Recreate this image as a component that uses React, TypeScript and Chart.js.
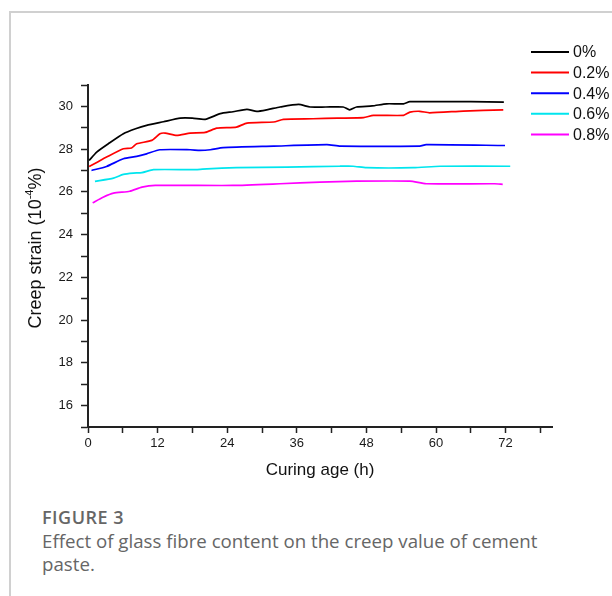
import React, { useEffect, useRef } from "react";
import { Chart, registerables } from "chart.js";

Chart.register(...registerables);

const seriesLabels = ["0%", "0.2%", "0.4%", "0.6%", "0.8%"];
const seriesColors = ["#000000", "#ff0000", "#0000ff", "#00e5ee", "#ff00ff"];

const hours0 = [0.2, 1.5, 3.5, 6.1, 8.2, 10.1, 13, 15.9, 18, 20.2, 22.8, 25, 27.4, 29.1, 31, 33.1, 36.3, 38.3, 41, 44, 45.1, 46.3, 49, 51.5, 54.4, 55.5, 60, 66, 71.7];
const strain0 = [27.47, 27.86, 28.25, 28.72, 28.95, 29.11, 29.28, 29.45, 29.45, 29.39, 29.66, 29.75, 29.86, 29.77, 29.85, 29.97, 30.09, 29.97, 29.97, 29.97, 29.84, 29.97, 30.02, 30.12, 30.12, 30.22, 30.22, 30.22, 30.2];

const hours02 = [0.2, 1.5, 3.2, 6.1, 7.5, 8.4, 11, 12.4, 13.3, 15.3, 17.6, 20.2, 22.2, 25.6, 27.4, 32, 33.7, 38.8, 43, 47.5, 49.2, 54.4, 55.5, 57.2, 58.9, 64.7, 71.6];
const strain02 = [27.19, 27.38, 27.63, 28.02, 28.05, 28.25, 28.41, 28.72, 28.75, 28.64, 28.75, 28.78, 28.98, 29.03, 29.22, 29.27, 29.39, 29.42, 29.45, 29.47, 29.58, 29.58, 29.73, 29.77, 29.7, 29.78, 29.84];

const hours04 = [0.6, 3.2, 6.1, 8.4, 10.1, 12.4, 17.6, 19.3, 21.1, 23.3, 32, 41.2, 43.5, 57.2, 58.3, 71.9];
const strain04 = [27.0, 27.19, 27.55, 27.66, 27.78, 27.97, 27.97, 27.94, 27.97, 28.07, 28.14, 28.21, 28.14, 28.14, 28.21, 28.17];

const hours06 = [1.2, 4.4, 6.1, 7.8, 9.3, 11.3, 18.7, 20.5, 25.6, 34.3, 43.4, 45.7, 48, 56.1, 60.7, 72.8];
const strain06 = [26.49, 26.64, 26.82, 26.88, 26.9, 27.04, 27.04, 27.08, 27.13, 27.16, 27.2, 27.2, 27.13, 27.13, 27.2, 27.2];

const hours08 = [0.8, 2.6, 4.4, 7.2, 9.3, 11.6, 25, 33.1, 40, 46.3, 55.5, 58.3, 70.1, 71.5];
const strain08 = [25.49, 25.75, 25.94, 26.03, 26.22, 26.3, 26.3, 26.38, 26.46, 26.5, 26.5, 26.38, 26.38, 26.35];

const allHours = [hours0, hours02, hours04, hours06, hours08];
const allStrain = [strain0, strain02, strain04, strain06, strain08];

const xTickStep = 6;
const xLabelStep = 12;
const yTickStep = 1;
const yLabelStep = 2;

const yTitleMain = "Creep strain (10";
const yTitleSup = "-4";
const yTitleEnd = "%)";

const FONT = "'Liberation Sans', Arial, sans-serif";

const legendPlugin = {
  id: "customLegend",
  afterDraw(chart: any) {
    const ctx = chart.ctx;
    ctx.save();
    chart.data.datasets.forEach((ds: any, i: number) => {
      const y = 52 + i * 20.6;
      ctx.strokeStyle = ds.borderColor;
      ctx.lineWidth = 2;
      ctx.beginPath();
      ctx.moveTo(531, y);
      ctx.lineTo(569, y);
      ctx.stroke();
      ctx.fillStyle = "#111";
      ctx.font = `16px ${FONT}`;
      ctx.textBaseline = "middle";
      ctx.textAlign = "left";
      ctx.fillText(ds.label, 573, y + 1);
    });
    ctx.restore();
  },
};

const yTitlePlugin = {
  id: "yTitle",
  afterDraw(chart: any) {
    const ctx = chart.ctx;
    ctx.save();
    ctx.translate(36, chart.chartArea.top + (chart.chartArea.bottom - chart.chartArea.top) / 2 - 8);
    ctx.rotate(-Math.PI / 2);
    ctx.fillStyle = "#111";
    ctx.textBaseline = "middle";
    ctx.textAlign = "left";
    ctx.font = `18px ${FONT}`;
    const w1 = ctx.measureText(yTitleMain).width;
    const w3 = ctx.measureText(yTitleEnd).width;
    ctx.font = `11px ${FONT}`;
    const w2 = ctx.measureText(yTitleSup).width;
    let x = -(w1 + w2 + w3) / 2;
    ctx.font = `18px ${FONT}`;
    ctx.fillText(yTitleMain, x, 0);
    x += w1;
    ctx.font = `11px ${FONT}`;
    ctx.fillText(yTitleSup, x, -6);
    x += w2;
    ctx.font = `18px ${FONT}`;
    ctx.fillText(yTitleEnd, x, 0);
    ctx.restore();
  },
};

export default function App() {
  const canvasRef = useRef<HTMLCanvasElement | null>(null);

  useEffect(() => {
    const canvas = canvasRef.current;
    if (!canvas) return;
    const datasets = seriesLabels.map((label, i) => ({
      label,
      data: allHours[i].map((h, j) => ({ x: h, y: allStrain[i][j] })),
      borderColor: seriesColors[i],
      backgroundColor: seriesColors[i],
      borderWidth: 1.7,
      pointRadius: 0,
      tension: 0.2,
      fill: false,
    }));
    const chart = new Chart(canvas, {
      type: "line",
      data: { datasets },
      plugins: [legendPlugin, yTitlePlugin],
      options: {
        responsive: false,
        animation: false,
        layout: { padding: { left: 0, top: 85, right: 60, bottom: 0 } },
        plugins: { legend: { display: false }, tooltip: { enabled: false } },
        scales: {
          x: {
            type: "linear",
            min: 0,
            max: 80,
            afterFit: (s: any) => {
              s.height = 63;
            },
            border: { display: true, color: "#222", width: 2 },
            grid: { drawOnChartArea: false, drawTicks: true, tickLength: 6, tickColor: "#222", tickWidth: 1.5 },
            ticks: {
              stepSize: xTickStep,
              includeBounds: false,
              autoSkip: false,
              maxRotation: 0,
              padding: 3,
              color: "#1a1a1a",
              font: { family: FONT, size: 13 },
              callback: (v: any) => (Number(v) % xLabelStep === 0 ? String(v) : ""),
            },
            title: {
              display: true,
              text: "Curing age (h)",
              color: "#111",
              font: { family: FONT, size: 17 },
              padding: { top: 0, bottom: 9 },
            },
          },
          y: {
            type: "linear",
            min: 15,
            max: 31,
            afterFit: (s: any) => {
              s.width = 88;
            },
            border: { display: true, color: "#222", width: 2 },
            grid: { drawOnChartArea: false, drawTicks: true, tickLength: 7, tickColor: "#222", tickWidth: 1.5 },
            ticks: {
              stepSize: yTickStep,
              includeBounds: false,
              autoSkip: false,
              padding: 8,
              color: "#1a1a1a",
              font: { family: FONT, size: 13 },
              callback: (v: any) => (Number(v) % yLabelStep === 0 && Number(v) > 15 && Number(v) < 31 ? String(v) : ""),
            },
            title: { display: false },
          },
        },
      },
    });
    return () => chart.destroy();
  }, []);

  return (
    <div style={{ position: "fixed", left: 0, top: 0, width: 612, height: 596, background: "#fff", overflow: "hidden" }}>
      <div style={{ position: "absolute", left: 9, top: 11, width: 603, height: 1.5, background: "#d0d0d0" }} />
      <div style={{ position: "absolute", left: 9, top: 11, width: 1.5, height: 585, background: "#d0d0d0" }} />
      <canvas ref={canvasRef} width={612} height={490} style={{ position: "absolute", left: 0, top: 0 }} />
      <div
        style={{
          position: "absolute",
          left: 42,
          top: 505,
          fontFamily: "'Open Sans', sans-serif",
          fontSize: 18,
          fontWeight: 600,
          color: "#666",
          letterSpacing: 0.5,
        }}
      >
        FIGURE 3
      </div>
      <div
        style={{
          position: "absolute",
          left: 42,
          top: 529,
          width: 520,
          fontFamily: "'Open Sans', sans-serif",
          fontSize: 18.7,
          lineHeight: "23px",
          color: "#666",
        }}
      >
        Effect of glass fibre content on the creep value of cement paste.
      </div>
    </div>
  );
}
